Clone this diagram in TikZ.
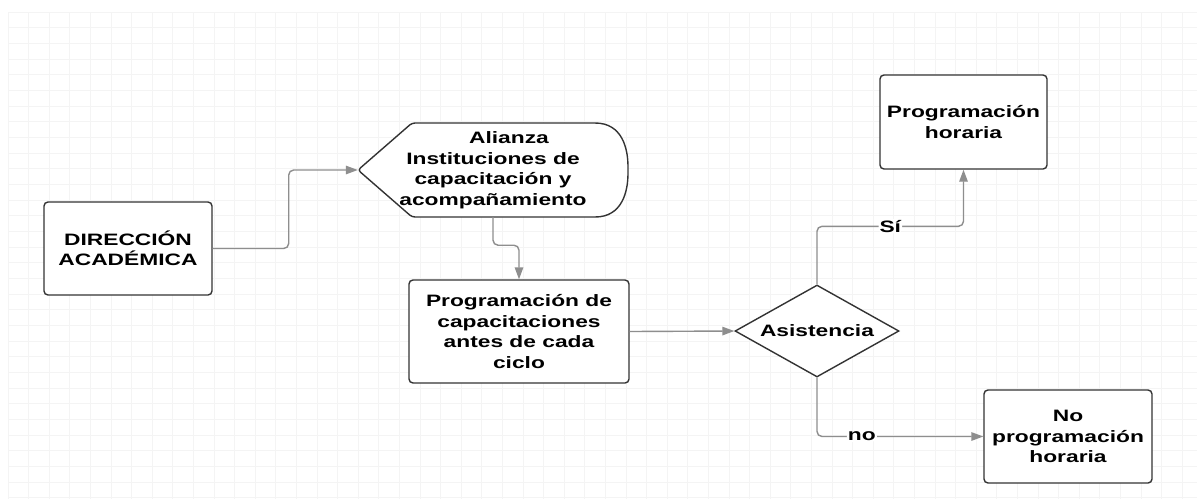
\documentclass[tikz,border=0pt]{standalone}
\usepackage{fontspec}
\setmainfont{Liberation Sans}[FakeStretch=1.38]
\usetikzlibrary{arrows.meta,shapes.geometric,calc}
\definecolor{boxline}{HTML}{333333}
\definecolor{connline}{HTML}{8E8E8E}
\definecolor{gridline}{HTML}{F4F4F4}
\tikzset{
  txt/.style={font=\fontsize{16.5}{20.5}\selectfont\bfseries, align=center, text=black},
  procbox/.style={txt, draw=boxline, line width=1.4pt, rounded corners=4pt, fill=white, inner sep=0pt},
  dispbox/.style={txt, inner sep=0pt},
  decbox/.style={txt, draw=boxline, line width=1.4pt, diamond, aspect=1.78, inner sep=0pt, fill=white},
  conn/.style={draw=connline, line width=1.4pt, rounded corners=5pt, -{Triangle[length=12pt,width=8.5pt]}},
  lab/.style={txt, fill=white, inner sep=1pt}
}
\begin{document}
\begin{tikzpicture}[x=1pt,y=-1pt]
\useasboundingbox (0,0) rectangle (1197,499);
\fill[white] (0,0) rectangle (1197,499);
% faint background grid
\foreach \i in {0,...,57} {\draw[gridline, line width=0.7pt] ({8+20.6*\i},12) -- ({8+20.6*\i},499);}
\foreach \j in {0,...,31} {\draw[gridline, line width=0.7pt] (8,{12+15.67*\j}) -- (1197,{12+15.67*\j});}

% nodes
\node[procbox, minimum width=168pt, minimum height=93pt] (dir) at (128,248.5) {DIRECCIÓN\\ACADÉMICA};
\node[dispbox, minimum width=270pt, minimum height=94pt] (ali) at (493,170) {};
\draw[boxline, line width=1.4pt, fill=white, rounded corners=3pt]
  (592,123) .. controls (622,123) and (628,148) .. (628,170)
  .. controls (628,192) and (622,217) .. (592,217)
  -- (412,217) -- (358,170) -- (412,123) -- cycle;
\node[txt] at (ali.center) {\hspace*{32pt}Alianza\\Instituciones de\\capacitación y\\acompañamiento};
\node[procbox, minimum width=220pt, minimum height=103pt] (prog) at (519,331.5) {Programación de\\capacitaciones\\antes de cada\\ciclo};
\node[decbox, minimum width=164pt, minimum height=92pt] (dia) at (817,331) {Asistencia};
\node[procbox, minimum width=167pt, minimum height=94pt] (hor) at (963.5,122) {Programación\\horaria};
\node[procbox, minimum width=168pt, minimum height=93pt] (nob) at (1068,436.5) {No\\programación\\horaria};

% connectors
\draw[conn] (dir.east) -- ++(76,0) |- (ali.west);
\draw[conn] (ali.south) -- ++(0,28) -| (prog.north);
\draw[conn] (prog.east) -- (dia.west);
\draw[conn] (dia.north) -- ++(0,-58) -| node[lab, pos=0.25] {Sí} (hor.south);
\draw[conn] (dia.south) |- node[lab, pos=0.635] {no} (nob.west);
\end{tikzpicture}
\end{document}
